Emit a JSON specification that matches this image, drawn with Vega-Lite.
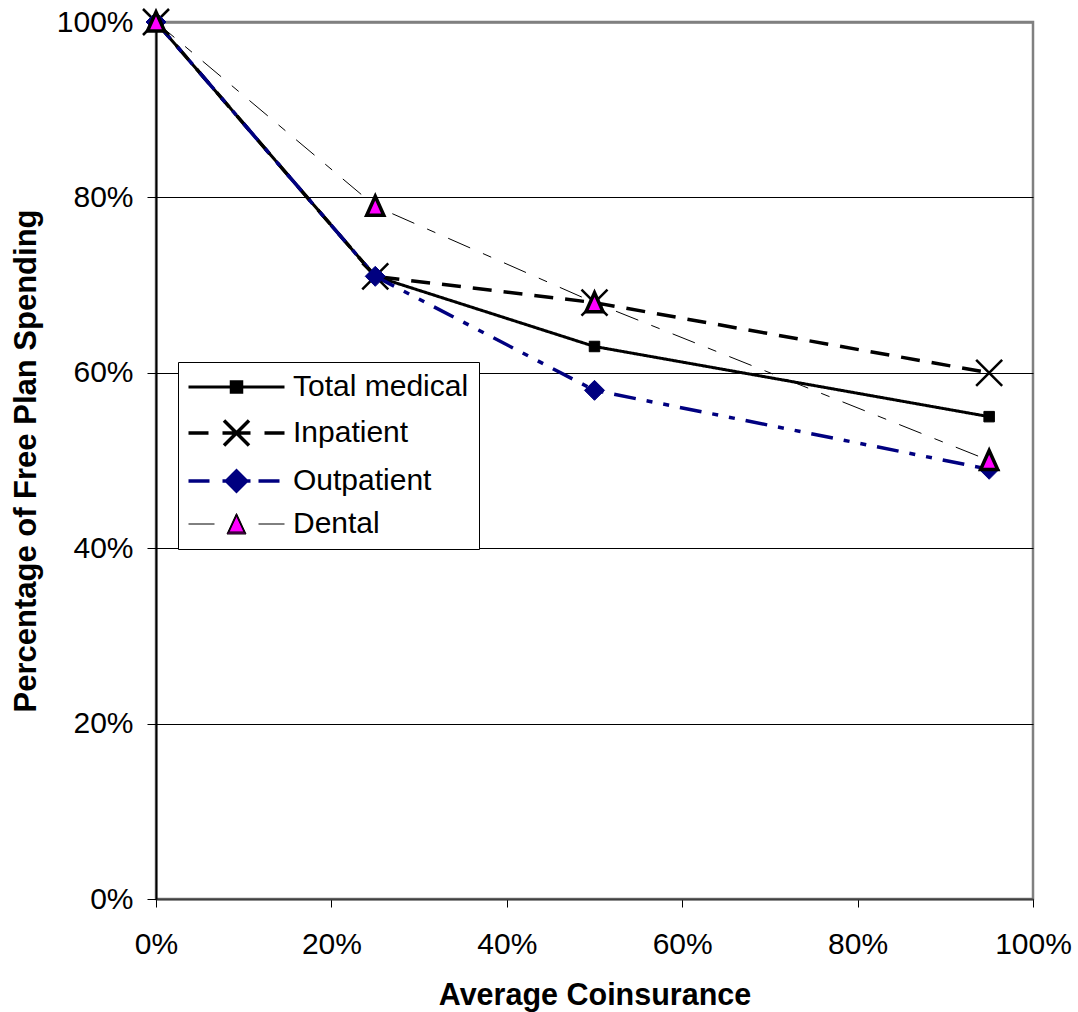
{
  "$schema": "https://vega.github.io/schema/vega-lite/v6.json",
  "width": 877,
  "height": 877,
  "autosize": {"type": "none"},
  "padding": {"left": 156, "top": 22, "right": 45, "bottom": 113},
  "background": "white",
  "config": {
    "font": "Liberation Sans",
    "view": {"stroke": "#808080", "strokeWidth": 2.5}
  },
  "data": {
    "values": [
      {"series": "Total medical", "coinsurance": 0, "pct": 1.0},
      {"series": "Total medical", "coinsurance": 0.25, "pct": 0.71},
      {"series": "Total medical", "coinsurance": 0.5, "pct": 0.63},
      {"series": "Total medical", "coinsurance": 0.95, "pct": 0.55},
      {"series": "Inpatient", "coinsurance": 0, "pct": 1.0},
      {"series": "Inpatient", "coinsurance": 0.25, "pct": 0.71},
      {"series": "Inpatient", "coinsurance": 0.5, "pct": 0.68},
      {"series": "Inpatient", "coinsurance": 0.95, "pct": 0.60},
      {"series": "Outpatient", "coinsurance": 0, "pct": 1.0},
      {"series": "Outpatient", "coinsurance": 0.25, "pct": 0.71},
      {"series": "Outpatient", "coinsurance": 0.5, "pct": 0.58},
      {"series": "Outpatient", "coinsurance": 0.95, "pct": 0.49},
      {"series": "Dental", "coinsurance": 0, "pct": 1.0},
      {"series": "Dental", "coinsurance": 0.25, "pct": 0.79},
      {"series": "Dental", "coinsurance": 0.5, "pct": 0.68},
      {"series": "Dental", "coinsurance": 0.95, "pct": 0.50}
    ]
  },
  "encoding": {
    "x": {
      "field": "coinsurance",
      "type": "quantitative",
      "scale": {"domain": [0, 1], "nice": false, "zero": false},
      "axis": {
        "values": [0, 0.2, 0.4, 0.6, 0.8, 1],
        "format": ".0%",
        "title": "Average Coinsurance",
        "grid": false,
        "labelFlush": false,
        "labelOverlap": false,
        "tickSize": 8,
        "tickColor": "black",
        "tickWidth": 1,
        "domainColor": "#404040",
        "domainWidth": 2,
        "labelFontSize": 30,
        "labelColor": "black",
        "labelFont": "Liberation Sans",
        "labelPadding": 22,
        "titleFont": "Liberation Sans",
        "titleFontSize": 30.5,
        "titleFontWeight": "bold",
        "titleColor": "black",
        "titleX": 438.5,
        "titleY": 105,
        "titleAlign": "center",
        "titleBaseline": "alphabetic"
      }
    },
    "y": {
      "field": "pct",
      "type": "quantitative",
      "scale": {"domain": [0, 1], "nice": false, "zero": false},
      "axis": {
        "values": [0, 0.2, 0.4, 0.6, 0.8, 1],
        "format": ".0%",
        "title": "Percentage of Free Plan Spending",
        "grid": true,
        "gridColor": {"condition": {"test": "datum.value >= 0.999", "value": "#808080"}, "value": "black"},
        "gridWidth": {"condition": {"test": "datum.value >= 0.999", "value": 2.5}, "value": 1},
        "labelFlush": false,
        "labelOverlap": false,
        "tickSize": 9,
        "tickColor": "black",
        "tickWidth": 1,
        "domainColor": "black",
        "domainWidth": 2,
        "labelFontSize": 30,
        "labelColor": "black",
        "labelFont": "Liberation Sans",
        "labelPadding": 14,
        "titleFont": "Liberation Sans",
        "titleFontSize": 31,
        "titleFontWeight": "bold",
        "titleColor": "black",
        "titleAngle": -90,
        "titleX": -121,
        "titleY": 438.5,
        "titleAlign": "center",
        "titleBaseline": "alphabetic"
      }
    }
  },
  "layer": [
    {
      "mark": {"type": "line", "strokeCap": "butt", "strokeJoin": "miter"},
      "encoding": {
        "stroke": {
          "field": "series", "type": "nominal",
          "scale": {"domain": ["Total medical", "Inpatient", "Outpatient", "Dental"], "range": ["black", "black", "#000080", "black"]},
          "legend": null
        },
        "strokeWidth": {
          "field": "series", "type": "nominal",
          "scale": {"type": "ordinal", "domain": ["Total medical", "Inpatient", "Outpatient", "Dental"], "range": [3, 3.5, 3.5, 1]},
          "legend": null
        },
        "strokeDash": {
          "field": "series", "type": "nominal",
          "scale": {"domain": ["Total medical", "Inpatient", "Outpatient", "Dental"], "range": [[1, 0], [19, 12], [22, 11, 6, 11, 6, 11], [24, 14, 9, 14]]},
          "legend": null
        }
      }
    },
    {
      "mark": {"type": "point", "opacity": 1, "filled": false, "strokeJoin": "miter"},
      "encoding": {
        "shape": {
          "field": "series", "type": "nominal",
          "scale": {"domain": ["Total medical", "Inpatient", "Outpatient", "Dental"], "range": ["square", "M-1,-1L1,1M-1,1L1,-1", "diamond", "M0,-1.05L0.9,0.95L-0.9,0.95Z"]},
          "legend": null
        },
        "size": {
          "field": "series", "type": "nominal",
          "scale": {"type": "ordinal", "domain": ["Total medical", "Inpatient", "Outpatient", "Dental"], "range": [110, 676, 400, 361]},
          "legend": null
        },
        "fill": {
          "field": "series", "type": "nominal",
          "scale": {"domain": ["Total medical", "Inpatient", "Outpatient", "Dental"], "range": ["black", "transparent", "#000080", "#FF00FF"]},
          "legend": null
        },
        "stroke": {
          "field": "series", "type": "nominal",
          "scale": {"domain": ["Total medical", "Inpatient", "Outpatient", "Dental"], "range": ["black", "black", "#000080", "black"]},
          "legend": null
        },
        "strokeWidth": {
          "field": "series", "type": "nominal",
          "scale": {"type": "ordinal", "domain": ["Total medical", "Inpatient", "Outpatient", "Dental"], "range": [1, 2.5, 1, 3.5]},
          "legend": null
        }
      }
    },
    {
      "mark": {"type": "point", "opacity": 0, "filled": false},
      "encoding": {
        "shape": {
          "field": "series", "type": "nominal",
          "scale": {"domain": ["Total medical", "Inpatient", "Outpatient", "Dental"], "range": [
            "M-3.84,0H3.84M-0.42,-0.42H0.42V0.42H-0.42Z",
            "M-3.84,0H-2.24M-1.12,0H1.12M2.24,0H3.84M-1,-1L1,1M-1,1L1,-1",
            "M-3.84,0H-2.16M-1.12,0H1.12M1.76,0H3.44M-0.8,0L0,-0.8L0.8,0L0,0.8Z",
            "M-3.84,0H-1.76M1.76,0H3.84M0,-0.84L0.76,0.8L-0.76,0.8ZM0,-0.74L0.68,0.72L-0.68,0.72ZM0,-0.65L0.6,0.64L-0.6,0.64Z"
          ]},
          "legend": {
            "title": null,
            "orient": "none",
            "legendX": 22,
            "legendY": 340,
            "padding": 10,
            "strokeColor": "black",
            "fillColor": "white",
            "symbolSize": 625,
            "symbolOpacity": 1,
            "symbolOffset": 33.5,
            "labelOffset": 41.5,
            "rowPadding": 11,
            "labelFont": "Liberation Sans",
            "labelFontSize": 30,
            "labelColor": "black",
            "labelLimit": 400
          }
        },
        "fill": {
          "field": "series", "type": "nominal",
          "scale": {"domain": ["Total medical", "Inpatient", "Outpatient", "Dental"], "range": ["black", "transparent", "#000080", "#FF00FF"]}
        },
        "stroke": {
          "field": "series", "type": "nominal",
          "scale": {"domain": ["Total medical", "Inpatient", "Outpatient", "Dental"], "range": ["black", "black", "#000080", "black"]}
        },
        "strokeWidth": {
          "field": "series", "type": "nominal",
          "scale": {"type": "ordinal", "domain": ["Total medical", "Inpatient", "Outpatient", "Dental"], "range": [3, 3.5, 3.5, 1]}
        }
      }
    }
  ],
  "resolve": {
    "scale": {"stroke": "independent", "fill": "independent", "shape": "independent", "strokeWidth": "independent", "strokeDash": "independent", "size": "independent"},
    "legend": {"stroke": "independent", "fill": "independent", "shape": "independent", "strokeWidth": "independent", "strokeDash": "independent", "size": "independent"}
  }
}
